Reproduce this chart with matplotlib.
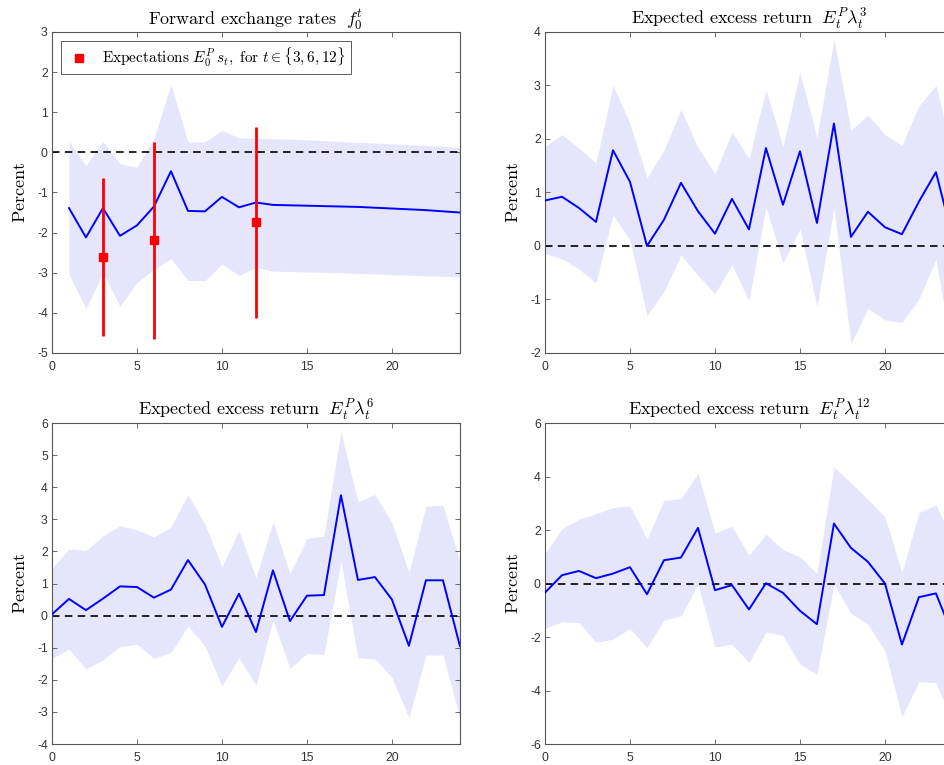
import matplotlib
matplotlib.use("Agg")
import matplotlib.pyplot as plt
import numpy as np

plt.rcParams['mathtext.fontset'] = 'cm'
plt.rcParams['axes.unicode_minus'] = False
plt.rcParams['font.family'] = ['Liberation Sans', 'DejaVu Sans']

# horizons
h_fwd = list(range(1, 25))
h_ret = list(range(0, 25))

# forward exchange rates f_0^t: median and band
fwd_mid = [-1.39, -2.12, -1.39, -2.08, -1.82, -1.35, -0.47, -1.46, -1.47, -1.11, -1.37, -1.25,
           -1.31, -1.32, -1.33, -1.34, -1.35, -1.36, -1.38, -1.40, -1.42, -1.44, -1.47, -1.50]
fwd_hi = [0.27, -0.33, 0.27, -0.29, -0.37, 0.35, 1.69, 0.26, 0.26, 0.55, 0.36, 0.35,
          0.34, 0.33, 0.31, 0.29, 0.27, 0.25, 0.23, 0.21, 0.19, 0.17, 0.15, 0.12]
fwd_lo = [-3.03, -3.90, -3.00, -3.84, -3.24, -2.92, -2.65, -3.19, -3.20, -2.78, -3.07, -2.86,
          -2.96, -2.97, -2.98, -2.99, -3.00, -3.02, -3.03, -3.05, -3.06, -3.08, -3.09, -3.11]

# survey expectations E_0^P s_t
exp_t = [3, 6, 12]
exp_mean = [-2.61, -2.18, -1.74]
exp_lo = [-4.58, -4.65, -4.13]
exp_hi = [-0.64, 0.27, 0.62]

# expected excess return, 3 months
r3_mid = [0.85, 0.92, 0.71, 0.45, 1.79, 1.20, 0.00, 0.49, 1.18, 0.65, 0.23, 0.88, 0.31,
          1.83, 0.77, 1.77, 0.43, 2.29, 0.17, 0.64, 0.35, 0.22, 0.83, 1.38, 0.13]
r3_hi = [1.86, 2.08, 1.83, 1.55, 3.00, 2.29, 1.27, 1.79, 2.55, 1.84, 1.35, 2.13, 1.63,
         2.92, 1.86, 3.25, 2.02, 3.87, 2.16, 2.45, 2.08, 1.88, 2.62, 3.00, 1.70]
r3_lo = [-0.14, -0.24, -0.43, -0.69, 0.59, 0.11, -1.30, -0.85, -0.17, -0.55, -0.89, -0.35, -1.03,
         0.73, -0.32, 0.32, -1.13, 0.71, -1.83, -1.16, -1.38, -1.43, -0.99, -0.25, -2.10]

# expected excess return, 6 months
r6_mid = [0.04, 0.52, 0.17, 0.53, 0.91, 0.89, 0.56, 0.81, 1.73, 0.97, -0.35, 0.68, -0.51,
          1.41, -0.17, 0.62, 0.64, 3.75, 1.11, 1.20, 0.50, -0.94, 1.10, 1.10, -0.95]
r6_hi = [1.47, 2.07, 2.03, 2.48, 2.80, 2.67, 2.45, 2.76, 3.77, 2.84, 1.52, 2.65, 1.18,
         2.92, 1.31, 2.40, 2.48, 5.74, 3.54, 3.77, 2.90, 1.34, 3.41, 3.44, 1.68]
r6_lo = [-1.33, -1.05, -1.66, -1.38, -0.97, -0.89, -1.33, -1.15, -0.32, -0.95, -2.19, -1.31, -2.18,
         -0.14, -1.64, -1.18, -1.21, 1.68, -1.31, -1.35, -1.93, -3.18, -1.23, -1.23, -3.20]

# expected excess return, 12 months
r12_mid = [-0.34, 0.31, 0.47, 0.20, 0.37, 0.61, -0.40, 0.87, 0.97, 2.08, -0.25, -0.06, -0.97,
           0.01, -0.35, -1.02, -1.52, 2.24, 1.33, 0.81, 0.00, -2.28, -0.51, -0.37, -1.95]
r12_hi = [1.12, 2.05, 2.40, 2.61, 2.84, 2.90, 1.66, 3.11, 3.17, 4.11, 1.89, 2.14, 1.06,
          1.84, 1.27, 1.00, 0.37, 4.36, 3.76, 3.14, 2.49, 0.40, 2.65, 2.94, 1.60]
r12_lo = [-1.68, -1.43, -1.46, -2.20, -2.08, -1.68, -2.40, -1.37, -1.21, -0.02, -2.37, -2.27, -2.96,
          -1.81, -1.95, -3.01, -3.39, -0.02, -1.12, -1.53, -2.51, -4.98, -3.67, -3.70, -5.20]

band_color = '#E5E5FC'
axis_color = '#555555'
label_color = '#333333'

fig = plt.figure(figsize=(9.45, 7.65), dpi=100)

# right-hand column runs past the canvas edge
w, h = 0.4317, 0.4196
ax1 = fig.add_axes([0.055, 0.5386, w, h])
ax2 = fig.add_axes([0.5767, 0.5386, w, h])
ax3 = fig.add_axes([0.055, 0.02745, w, h])
ax4 = fig.add_axes([0.5767, 0.02745, w, h])


def draw_panel(ax, x, mid, lo, hi, ylim, yticks, title):
    ax.fill_between(x, lo, hi, color=band_color, linewidth=0, zorder=1)
    ax.plot(x, mid, color='#0000FF', linewidth=1.4, zorder=3)
    ax.axhline(0, color='black', linewidth=1.2, linestyle=(0, (4.5, 3.2)), zorder=2)
    ax.set_xlim(0, 24)
    ax.set_ylim(*ylim)
    ax.set_xticks([0, 5, 10, 15, 20])
    ax.set_yticks(yticks)
    ax.tick_params(direction='in', top=True, right=True, length=3.5, width=0.6,
                   color=axis_color, labelcolor=label_color, labelsize=8.8)
    ax.tick_params(axis='x', pad=6)
    ax.tick_params(axis='y', pad=3)
    for sp in ax.spines.values():
        sp.set_color(axis_color)
        sp.set_linewidth(0.8)
    ax.set_ylabel(r'$\mathrm{Percent}$', fontsize=13, labelpad=6)
    ax.set_title(title, fontsize=13, pad=5)


draw_panel(ax1, h_fwd, fwd_mid, fwd_lo, fwd_hi, (-5, 3), range(-5, 4),
           r'$\mathrm{Forward\ exchange\ rates}\ \ f_0^t$')

err_low = np.array(exp_mean) - np.array(exp_lo)
err_high = np.array(exp_hi) - np.array(exp_mean)
ax1.errorbar(exp_t, exp_mean, yerr=[err_low, err_high], fmt='none', ecolor='#FF0000',
             elinewidth=2.0, capsize=0, zorder=4)
ax1.plot(exp_t, exp_mean, linestyle='none', marker='s', markersize=6, color='#FF0000',
         zorder=5, label=r'$\mathrm{Expectations}\ E_0^P\, s_t,\ \mathrm{for}\ t \in \{3,6,12\}$')
leg = ax1.legend(loc='upper left', fontsize=11, frameon=True, fancybox=False,
                 borderaxespad=0.6, handletextpad=0.6, borderpad=0.3, handlelength=1.8)
leg.get_frame().set_edgecolor(label_color)
leg.get_frame().set_linewidth(0.7)

draw_panel(ax2, h_ret, r3_mid, r3_lo, r3_hi, (-2, 4), range(-2, 5),
           r'$\mathrm{Expected\ excess\ return}\ \ E_t^P \lambda_t^3$')
draw_panel(ax3, h_ret, r6_mid, r6_lo, r6_hi, (-4, 6), range(-4, 7),
           r'$\mathrm{Expected\ excess\ return}\ \ E_t^P \lambda_t^6$')
draw_panel(ax4, h_ret, r12_mid, r12_lo, r12_hi, (-6, 6), range(-6, 7, 2),
           r'$\mathrm{Expected\ excess\ return}\ \ E_t^P \lambda_t^{12}$')

fig.savefig('out.png', dpi=100)
